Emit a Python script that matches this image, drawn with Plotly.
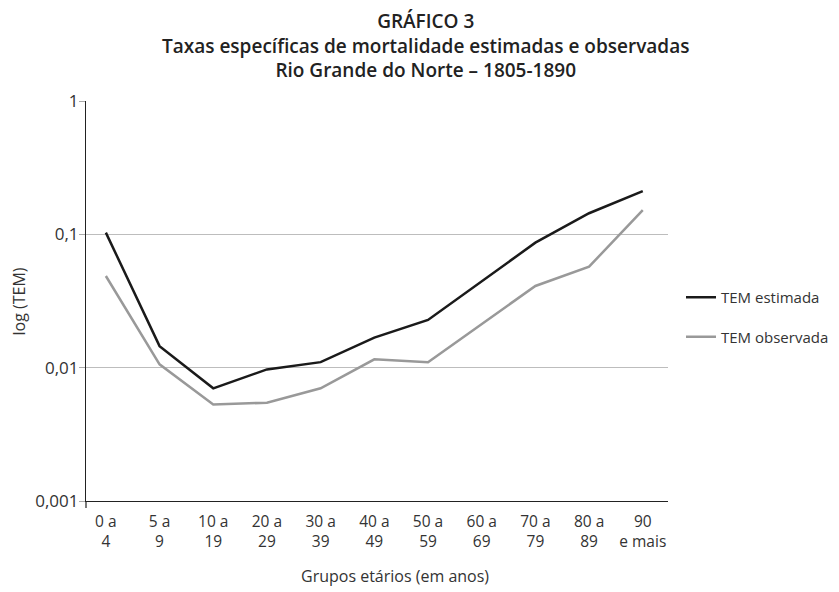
import plotly.graph_objects as go

categories = ["0 a<br>4", "5 a<br>9", "10 a<br>19", "20 a<br>29", "30 a<br>39", "40 a<br>49",
              "50 a<br>59", "60 a<br>69", "70 a<br>79", "80 a<br>89", "90<br>e mais"]
tem_estimada = [0.103, 0.0145, 0.0070, 0.0097, 0.0110, 0.0168, 0.0228, 0.0445, 0.0866, 0.144, 0.211]
tem_observada = [0.0487, 0.0106, 0.0053, 0.00546, 0.0070, 0.01155, 0.0110, 0.0214, 0.041, 0.0572, 0.152]
y_tickvals = [1, 0.1, 0.01, 0.001]
y_ticktext = ["1", "0,1", "0,01", "0,001"]
title_lines = ["GRÁFICO 3",
               "Taxas específicas de mortalidade estimadas e observadas",
               "Rio Grande do Norte – 1805-1890"]
x_title = "Grupos etários (em anos)"
y_title = "log (TEM)"

x = list(range(len(categories)))
FONT = "'Open Sans', sans-serif"
TXT = "#333333"

# the page body has an 8px margin: work in page pixels, convert to figure pixels
OFF = 8
W, H = 839 - OFF, 592 - OFF
L, R, T, B = 86 - OFF, 668 - OFF, 101 - OFF, 501 - OFF

def py_paper(page_y):
    return (B - (page_y - OFF)) / (B - T)

def px_paper(page_x):
    return ((page_x - OFF) - L) / (R - L)

fig = go.Figure()
fig.add_trace(go.Scatter(x=x, y=tem_estimada, mode="lines", name="TEM estimada",
                         legendgroup="a", line=dict(color="#1a1a1a", width=2.5)))
fig.add_trace(go.Scatter(x=x, y=tem_observada, mode="lines", name="TEM observada",
                         legendgroup="b", line=dict(color="#999999", width=2.5)))

annotations = [
    dict(text="<br>".join(title_lines), xref="paper", yref="paper",
         x=px_paper(425), y=py_paper(45), align="center",
         xanchor="center", yanchor="middle", showarrow=False,
         font=dict(family=FONT, size=19, color="#222222", weight=600)),
    dict(text=x_title, xref="paper", yref="paper",
         x=px_paper(395), y=py_paper(576),
         xanchor="center", yanchor="middle", showarrow=False,
         font=dict(family=FONT, size=16, color=TXT)),
    dict(text=y_title, xref="paper", yref="paper",
         x=px_paper(18.5), y=py_paper(302), textangle=-90,
         xanchor="center", yanchor="middle", showarrow=False,
         font=dict(family=FONT, size=16, color=TXT)),
]

fig.update_layout(
    width=W, height=H,
    paper_bgcolor="white", plot_bgcolor="white",
    margin=dict(l=L, r=W - R, t=T, b=H - B, autoexpand=False),
    font=dict(family=FONT, size=16, color=TXT),
    legend=dict(x=px_paper(681), y=py_paper(317), xanchor="left", yanchor="middle",
                font=dict(family=FONT, size=15, color=TXT),
                tracegroupgap=17, bgcolor="rgba(0,0,0,0)"),
    showlegend=True,
    annotations=annotations,
    shapes=[dict(type="line", xref="paper", yref="paper", x0=0, x1=0,
                 y0=0, y1=-7 / (B - T), line=dict(color="#222222", width=1.2))],
)
fig.update_xaxes(
    range=[-0.37, 10.47], tickvals=x, ticktext=categories,
    showline=True, linecolor="#222222", linewidth=1.2,
    showgrid=False, zeroline=False, ticks="", automargin=False,
    ticklabelstandoff=6,
    tickfont=dict(family=FONT, size=15.5, color=TXT),
)
fig.update_yaxes(
    type="log", range=[-3, 0], tickvals=y_tickvals, ticktext=y_ticktext,
    showline=True, linecolor="#222222", linewidth=1.2,
    showgrid=True, gridcolor="#bdbdbd", gridwidth=1, zeroline=False,
    ticks="outside", ticklen=6, tickcolor="#aaaaaa", automargin=False,
    ticklabelstandoff=-3,
    tickfont=dict(family=FONT, size=17, color=TXT),
)

fig.write_html("out.html")
